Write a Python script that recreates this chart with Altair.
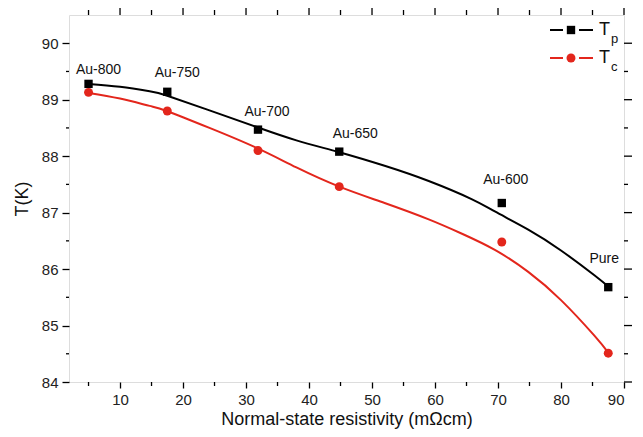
import altair as alt
import pandas as pd

# ---- data ----
resistivity = [5.0, 17.5, 31.9, 44.8, 70.6, 87.5]
tp_values = [89.28, 89.14, 88.47, 88.08, 87.17, 85.68]
tc_values = [89.13, 88.80, 88.10, 87.46, 86.48, 84.51]
sample_labels = ["Au-800", "Au-750", "Au-700", "Au-650", "Au-600", "Pure"]

fit_tp_x = [5, 10, 14.7, 17.5, 24.2, 31.6, 38, 44.8, 52, 59, 65.8, 69.5, 74.8, 80, 85.3, 87.5]
fit_tp_y = [89.28, 89.23, 89.15, 89.07, 88.81, 88.52, 88.28, 88.07, 87.83, 87.56, 87.24, 87.02, 86.70, 86.33, 85.89, 85.69]
fit_tc_x = [5, 10, 14.7, 17.4, 24.2, 31.6, 38, 44.8, 52, 59, 64.2, 69.5, 74.8, 80, 85.3, 87.5]
fit_tc_y = [89.12, 89.02, 88.89, 88.80, 88.50, 88.15, 87.80, 87.46, 87.17, 86.88, 86.63, 86.34, 85.95, 85.45, 84.82, 84.52]

x_major = [10, 20, 30, 40, 50, 60, 70, 80, 90]
x_minor = [5, 15, 25, 35, 45, 55, 65, 75, 85]
y_major = [84, 85, 86, 87, 88, 89, 90]
y_minor = [84.5, 85.5, 86.5, 87.5, 88.5, 89.5]

RED = "#e3261c"
FONT = "Liberation Sans"
W, H = 555, 367

pts = pd.DataFrame({"x": resistivity * 2,
                    "y": tp_values + tc_values,
                    "s": ["Tp"] * len(tp_values) + ["Tc"] * len(tc_values)})
fits = pd.DataFrame({"x": fit_tp_x + fit_tc_x,
                     "y": fit_tp_y + fit_tc_y,
                     "s": ["Tp"] * len(fit_tp_x) + ["Tc"] * len(fit_tc_x)})
labs = pd.DataFrame({"x": resistivity, "y": tp_values, "t": sample_labels})

xs = alt.Scale(domain=[1.9, 90], nice=False, zero=False)
ys = alt.Scale(domain=[84, 90.5], nice=False, zero=False)
col = alt.Scale(domain=["Tp", "Tc"], range=["black", RED])

x_axis = alt.Axis(values=x_major, tickSize=6, title="Normal-state resistivity (mΩcm)",
                  grid=False, domain=False, tickColor="black", tickWidth=1.3,
                  labelFont=FONT, labelFontSize=15, labelColor="#222", labelPadding=4,
                  titleFont=FONT, titleFontSize=18, titleFontWeight="normal", titleColor="#111",
                  titlePadding=3)
y_axis = alt.Axis(values=y_major, tickSize=7, title="T(K)",
                  grid=False, domain=False, tickColor="black", tickWidth=1.3,
                  labelFont=FONT, labelFontSize=15, labelColor="#222", labelPadding=4,
                  titleFont=FONT, titleFontSize=18, titleFontWeight="normal", titleColor="#111",
                  titlePadding=10)


def X(f):
    return alt.X(f, scale=xs, axis=x_axis)


def Y(f):
    return alt.Y(f, scale=ys, axis=y_axis)


lines = alt.Chart(fits).mark_line(strokeWidth=2, interpolate="natural").encode(
    x=X("x:Q"), y=Y("y:Q"),
    color=alt.Color("s:N", scale=col, legend=None),
    detail="s:N",
)
sq = alt.Chart(pts).transform_filter("datum.s === 'Tp'").mark_point(
    shape="square", filled=True, size=70, opacity=1, color="black").encode(
    x=X("x:Q"), y=Y("y:Q"))
circ = alt.Chart(pts).transform_filter("datum.s === 'Tc'").mark_point(
    shape="circle", filled=True, size=80, opacity=1, color=RED).encode(
    x=X("x:Q"), y=Y("y:Q"))

# sample labels, each with its own offset
offsets = [(10, -14), (10, -19), (9, -18), (16, -18), (4, -23), (-4, -28)]
label_layers = []
for i, (dx, dy) in enumerate(offsets):
    label_layers.append(
        alt.Chart(labs).transform_filter(f"datum.t === '{sample_labels[i]}'").mark_text(
            font=FONT, fontSize=14, color="#111", dx=dx, dy=dy, baseline="middle").encode(
            x=X("x:Q"), y=Y("y:Q"), text="t:N")
    )

# extra ticks (minor ticks and mirrored top/right ticks), placed through the scales
xmin_df = pd.DataFrame({"x": x_minor})
xmaj_df = pd.DataFrame({"x": x_major})
ymin_df = pd.DataFrame({"y": y_minor})
ymaj_df = pd.DataFrame({"y": y_major})
tk = dict(color="black", strokeWidth=1.3)
ticks = [
    alt.Chart(xmin_df).mark_rule(**tk).encode(x=X("x:Q"), y=alt.value(H), y2=alt.value(H + 4)),
    alt.Chart(xmin_df).mark_rule(**tk).encode(x=X("x:Q"), y=alt.value(0), y2=alt.value(-5)),
    alt.Chart(xmaj_df).mark_rule(**tk).encode(x=X("x:Q"), y=alt.value(0), y2=alt.value(-8)),
    alt.Chart(ymin_df).mark_rule(**tk).encode(y=Y("y:Q"), x=alt.value(0), x2=alt.value(-3)),
    alt.Chart(ymin_df).mark_rule(**tk).encode(y=Y("y:Q"), x=alt.value(W), x2=alt.value(W + 4)),
    alt.Chart(ymaj_df).mark_rule(**tk).encode(y=Y("y:Q"), x=alt.value(W), x2=alt.value(W + 8)),
]

# custom legend
one = alt.Data(values=[{}])
leg = []
for (yy, c, shape, sub) in [(15, "black", "square", "p"), (43, RED, "circle", "c")]:
    leg.append(alt.Chart(one).mark_rule(color=c, strokeWidth=2).encode(
        x=alt.value(481), x2=alt.value(494), y=alt.value(yy)))
    leg.append(alt.Chart(one).mark_rule(color=c, strokeWidth=2).encode(
        x=alt.value(510), x2=alt.value(524), y=alt.value(yy)))
    leg.append(alt.Chart(one).mark_point(shape=shape, filled=True, opacity=1, color=c,
                                         size=70 if shape == "square" else 80).encode(
        x=alt.value(502), y=alt.value(yy)))
    leg.append(alt.Chart(one).mark_text(text="T", font=FONT, fontSize=18, color="#111",
                                        align="left", baseline="middle").encode(
        x=alt.value(530), y=alt.value(yy)))
    leg.append(alt.Chart(one).mark_text(text=sub, font=FONT, fontSize=13, color="#111",
                                        align="left", baseline="middle").encode(
        x=alt.value(542), y=alt.value(yy + 9)))

chart = alt.layer(lines, sq, circ, *label_layers, *ticks, *leg).properties(
    width=W, height=H,
    padding={"left": 61, "top": 7, "right": 11, "bottom": 47},
    autosize=alt.AutoSizeParams(type="none"),
).configure_view(stroke="black", strokeWidth=1.5).configure(background="white")

chart.save("out.html", embed_options={"renderer": "svg", "actions": False})
